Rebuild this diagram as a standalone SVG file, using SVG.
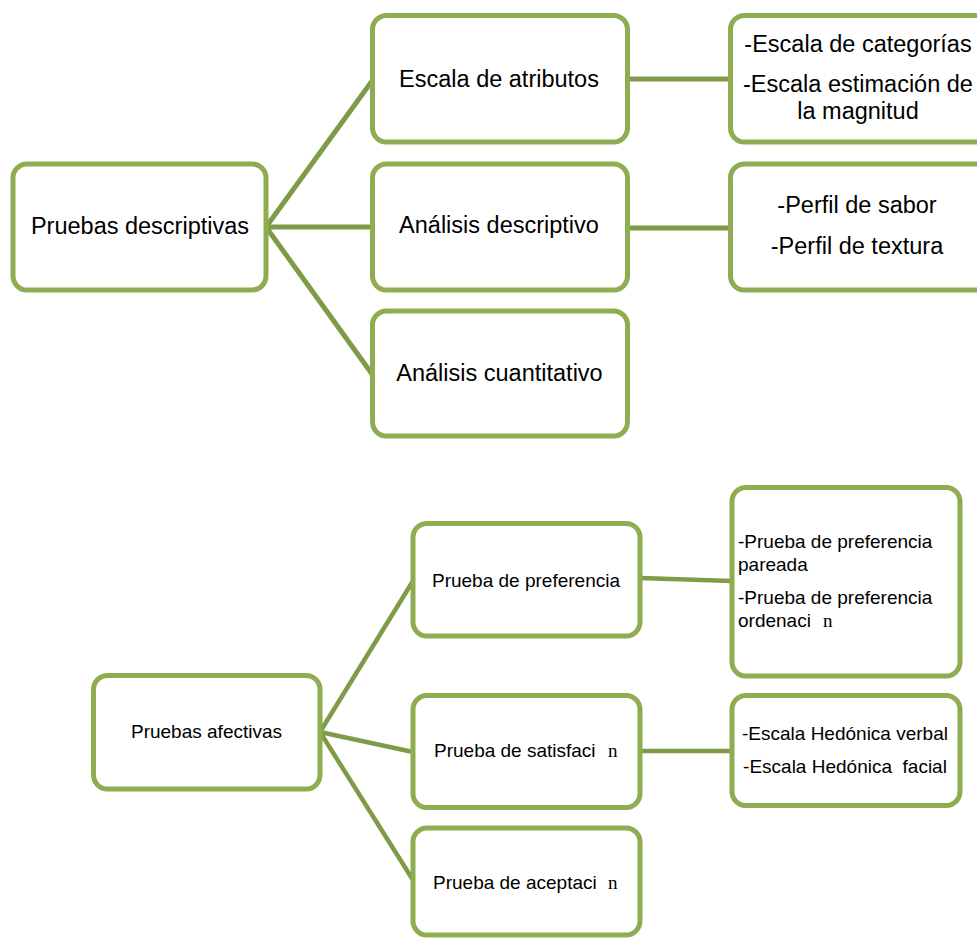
<svg xmlns="http://www.w3.org/2000/svg" width="977" height="939" viewBox="0 0 977 939">
<style>
.box{fill:#ffffff;stroke:#8DAD50;stroke-width:5}
.con{stroke:#7F9B48;fill:none;stroke-linecap:butt}
.t1{font-family:"Liberation Sans",Arial,sans-serif;font-size:23.5px;fill:#000}
.t2{font-family:"Liberation Sans",Arial,sans-serif;font-size:19px;fill:#000}
.n{font-family:"Liberation Serif","Times New Roman",serif;font-size:19px;fill:#000}
</style>
<rect width="977" height="939" fill="#ffffff"/>
<g id="connectors">
<line class="con" stroke-width="5" x1="266" y1="227" x2="372" y2="81"/>
<line class="con" stroke-width="5" x1="266" y1="227" x2="372" y2="227"/>
<line class="con" stroke-width="5" x1="266" y1="227" x2="372" y2="374"/>
<line class="con" stroke-width="5" x1="628" y1="79" x2="731" y2="79"/>
<line class="con" stroke-width="5" x1="628" y1="228" x2="731" y2="228"/>
<line class="con" stroke-width="4.5" x1="320" y1="732" x2="413" y2="581"/>
<line class="con" stroke-width="4.5" x1="320" y1="732" x2="413" y2="752"/>
<line class="con" stroke-width="4.5" x1="320" y1="732" x2="413" y2="880"/>
<line class="con" stroke-width="4.5" x1="640" y1="578" x2="732" y2="581"/>
<line class="con" stroke-width="4.5" x1="640" y1="751" x2="732" y2="751"/>
</g>
<g id="pruebas-descriptivas">
<rect class="box" x="13" y="164" width="253" height="126" rx="14"/>
<text class="t1" x="140" y="234" text-anchor="middle">Pruebas descriptivas</text>
</g>
<g id="escala-atributos">
<rect class="box" x="372.5" y="15.5" width="255" height="126.5" rx="14"/>
<text class="t1" x="499" y="87" text-anchor="middle">Escala de atributos</text>
</g>
<g id="analisis-descriptivo">
<rect class="box" x="372.5" y="164" width="255" height="126" rx="14"/>
<text class="t1" x="499" y="233" text-anchor="middle">Análisis descriptivo</text>
</g>
<g id="analisis-cuantitativo">
<rect class="box" x="372.5" y="311" width="255" height="125" rx="14"/>
<text class="t1" x="499.5" y="381" text-anchor="middle">Análisis cuantitativo</text>
</g>
<g id="escalas">
<rect class="box" x="730.5" y="15.5" width="270" height="126.5" rx="14"/>
<text class="t1" x="858" y="52" text-anchor="middle">-Escala de categorías</text>
<text class="t1" x="858" y="92" text-anchor="middle">-Escala estimación de</text>
<text class="t1" x="858" y="119" text-anchor="middle">la magnitud</text>
</g>
<g id="perfiles">
<rect class="box" x="730.5" y="164" width="270" height="126" rx="14"/>
<text class="t1" x="857" y="213" text-anchor="middle">-Perfil de sabor</text>
<text class="t1" x="857" y="254" text-anchor="middle">-Perfil de textura</text>
</g>
<g id="pruebas-afectivas">
<rect class="box" x="93.5" y="675.5" width="226.5" height="113.5" rx="14"/>
<text class="t2" x="206.5" y="738" text-anchor="middle">Pruebas afectivas</text>
</g>
<g id="prueba-preferencia">
<rect class="box" x="413" y="523.5" width="227" height="112.5" rx="14"/>
<text class="t2" x="526" y="587" text-anchor="middle">Prueba de preferencia</text>
</g>
<g id="prueba-satisfaccion">
<rect class="box" x="413" y="695.5" width="227" height="112" rx="14"/>
<text class="t2" x="434" y="757">Prueba de satisfaci</text>
<text class="n" x="608" y="757">n</text>
</g>
<g id="prueba-aceptacion">
<rect class="box" x="413" y="828" width="227" height="107" rx="14"/>
<text class="t2" x="433" y="889">Prueba de aceptaci</text>
<text class="n" x="608" y="889">n</text>
</g>
<g id="preferencias">
<rect class="box" x="732" y="487.5" width="228" height="188.5" rx="14"/>
<text class="t2" x="738" y="548" font-size="19.5">-Prueba de preferencia</text>
<text class="t2" x="738" y="571" font-size="19.5">pareada</text>
<text class="t2" x="738" y="604" font-size="19.5">-Prueba de preferencia</text>
<text class="t2" x="738" y="627" font-size="19.5">ordenaci</text>
<text class="n" x="823" y="627" font-size="19.5">n</text>
</g>
<g id="hedonicas">
<rect class="box" x="732" y="695.5" width="228" height="110" rx="14"/>
<text class="t2" x="845" y="740" text-anchor="middle" font-size="20">-Escala Hedónica verbal</text>
<text class="t2" x="845" y="773" text-anchor="middle" font-size="20" xml:space="preserve">-Escala Hedónica  facial</text>
</g>
</svg>
